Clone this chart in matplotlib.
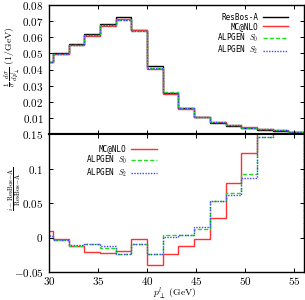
import matplotlib
matplotlib.use("Agg")
import matplotlib.pyplot as plt
import numpy as np
from matplotlib.ticker import FuncFormatter

plt.rcParams['mathtext.fontset'] = 'cm'
plt.rcParams['font.family'] = ['DejaVu Serif']

# bin edges (GeV)
edges = [28.8, 30.4, 32.0, 33.6, 35.2, 36.8, 38.4, 40.0, 41.6, 43.2, 44.8,
         46.4, 48.0, 49.6, 51.2, 52.8, 54.4, 56.0]

# normalized distributions (1/GeV)
resbos = [0.0445, 0.0500, 0.0556, 0.0618, 0.0683, 0.0725, 0.0645, 0.0420, 0.0257,
          0.0160, 0.0104, 0.0071, 0.0050, 0.0037, 0.0026, 0.0018, 0.0011]
mcnlo = [0.0449, 0.0499, 0.0549, 0.0605, 0.0668, 0.0711, 0.0644, 0.0403, 0.0251,
         0.0158, 0.0104, 0.0073, 0.0054, 0.0042, 0.0031, 0.0022, 0.0014]
alp_s0 = [0.0447, 0.0498, 0.0549, 0.0612, 0.0673, 0.0708, 0.0639, 0.0410, 0.0258,
          0.0161, 0.0105, 0.0075, 0.0053, 0.0040, 0.0030, 0.0022, 0.0014]
alp_s2 = [0.0446, 0.0498, 0.0550, 0.0612, 0.0674, 0.0708, 0.0639, 0.0410, 0.0257,
          0.0161, 0.0106, 0.0075, 0.0053, 0.0040, 0.0030, 0.0022, 0.0014]

# ratios (i - ResBos-A)/ResBos-A
r_mcnlo = [0.010, -0.002, -0.012, -0.021, -0.022, -0.0195, -0.002, -0.040, -0.024,
           -0.012, -0.002, 0.0285, 0.079, 0.122, 0.18, 0.25, 0.30]
r_s0 = [0.004, -0.004, -0.013, -0.010, -0.015, -0.0235, -0.010, -0.024, 0.003,
        0.004, 0.012, 0.053, 0.064, 0.092, 0.146, 0.22, 0.28]
r_s2 = [0.002, -0.004, -0.011, -0.009, -0.013, -0.0233, -0.009, -0.024, 0.001,
        0.004, 0.015, 0.053, 0.061, 0.086, 0.146, 0.22, 0.28]

labels = ["ResBos-A", "MC@NLO", r"ALPGEN $S_0$", r"ALPGEN $S_2$"]
xticks = [30, 35, 40, 45, 50, 55]
top_yticks = [0.01, 0.02, 0.03, 0.04, 0.05, 0.06, 0.07, 0.08]
bot_yticks = [-0.05, 0, 0.05, 0.1, 0.15]

c_black = "black"
c_red = "#ff3030"
c_green = "#22dd22"
c_blue = "#4444ff"

fig = plt.figure(figsize=(3.05, 3.0), dpi=100)
L, R = 49 / 305, 304 / 305
ax1 = fig.add_axes([L, 1 - 134 / 300, R - L, (134 - 5) / 300])
ax2 = fig.add_axes([L, 1 - 272 / 300, R - L, (272 - 134) / 300])

fmt = FuncFormatter(lambda v, p: "$%g$" % round(v, 4))

lw = 1.0
ax1.stairs(resbos, edges, color=c_black, lw=lw, label=labels[0])
ax1.stairs(mcnlo, edges, color=c_red, lw=lw, label=labels[1])
ax1.stairs(alp_s0, edges, color=c_green, lw=lw, ls=(0, (3, 1.5)), label=labels[2])
ax1.stairs(alp_s2, edges, color=c_blue, lw=lw, ls=(0, (1, 1)), label=labels[3])
ax1.set_xlim(30, 56)
ax1.set_ylim(0, 0.08)
ax1.set_xticks(xticks)
ax1.set_xticklabels([])
ax1.set_yticks(top_yticks)
ax1.yaxis.set_major_formatter(fmt)

ax2.stairs(r_mcnlo, edges, color=c_red, lw=lw, label=labels[1])
ax2.stairs(r_s0, edges, color=c_green, lw=lw, ls=(0, (3, 1.5)), label=labels[2])
ax2.stairs(r_s2, edges, color=c_blue, lw=lw, ls=(0, (1, 1)), label=labels[3])
ax2.set_xlim(30, 56)
ax2.set_ylim(-0.05, 0.15)
ax2.set_xticks(xticks)
ax2.set_yticks(bot_yticks)
ax2.xaxis.set_major_formatter(FuncFormatter(lambda v, p: "$%g$" % v))
ax2.yaxis.set_major_formatter(fmt)

for ax in (ax1, ax2):
    ax.tick_params(direction="in", top=True, right=True, length=3, width=0.7,
                   labelsize=8, pad=4)
    for s in ax.spines.values():
        s.set_linewidth(1.0)
ax2.tick_params(axis='x', pad=2)
ax1.spines['bottom'].set_linewidth(1.5)
ax2.spines['top'].set_linewidth(1.5)

ax1.set_ylabel(r"$\frac{1}{\sigma}\,\frac{d\sigma}{dp_\perp^l}\ (1/\mathrm{GeV})$", fontsize=7)
ax1.yaxis.set_label_coords(-0.1, 0.6)
ax2.set_ylabel(r"$\frac{i-\mathrm{ResBos{-}A}}{\mathrm{ResBos{-}A}}$", fontsize=7)
ax2.yaxis.set_label_coords(-0.1, 0.6)
ax2.set_xlabel(r"$p_\perp^l\ (\mathrm{GeV})$", fontsize=7)
ax2.xaxis.set_label_coords(0.494, -0.098)

legkw = dict(frameon=False, markerfirst=False, handlelength=3.3, handletextpad=0.6,
             labelspacing=0.05, borderpad=0, borderaxespad=0,
             prop={'family': 'DejaVu Sans Mono', 'size': 5.5})
ax1.legend(loc="upper right", bbox_to_anchor=(0.937, 0.94), **legkw)
ax2.legend(loc="upper right", bbox_to_anchor=(0.422, 0.925), **legkw)

fig.savefig("out.png", dpi=100)
